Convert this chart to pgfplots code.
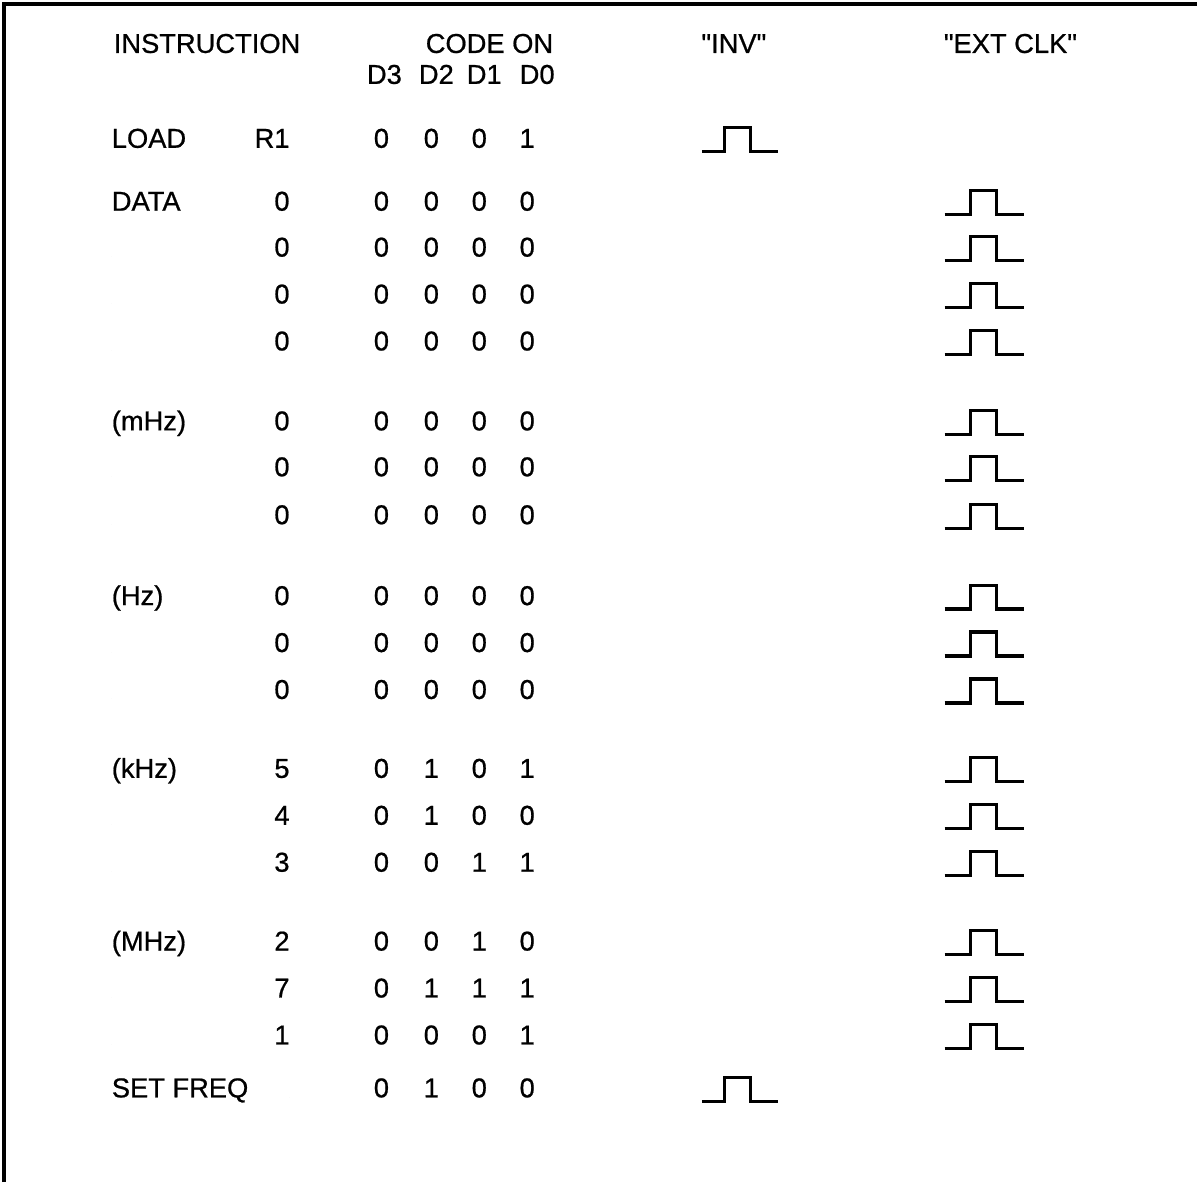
\documentclass[border=0pt]{standalone}
\usepackage{fontspec}
\setmainfont{Liberation Sans}[FakeBold=0.7]
\usepackage{pgfplots}
\usepackage{pgfplotstable}
\pgfplotsset{compat=1.18}

% rows: baseline y, label, digit, bits D3 D2 D1 D0
\pgfplotstableread{
y lab dig bA bB bC bD
148 LOAD R1 0 0 0 1
211 DATA 0 0 0 0 0
257 {} 0 0 0 0 0
304 {} 0 0 0 0 0
351 {} 0 0 0 0 0
431 (mHz) 0 0 0 0 0
477 {} 0 0 0 0 0
525 {} 0 0 0 0 0
606 (Hz) 0 0 0 0 0
653 {} 0 0 0 0 0
700 {} 0 0 0 0 0
779 (kHz) 5 0 1 0 1
826 {} 4 0 1 0 0
873 {} 3 0 0 1 1
952 (MHz) 2 0 0 1 0
999 {} 7 0 1 1 1
1046 {} 1 0 0 0 1
1099 {SET FREQ} {} 0 1 0 0
}\rows

\pgfplotstableread{
x y lab
735 53 {\textquotedbl INV\textquotedbl}
1012 53 {\textquotedbl EXT CLK\textquotedbl}
385 84 D3
437 84 D2
485 84 D1
538 84 D0
}\heads

\pgfplotstableread{
x y
703 152
726 152
726 128
752 128
752 152
779 152
nan nan
703 1103
726 1103
726 1079
752 1079
752 1103
779 1103
nan nan
946 215
972 215
972 191
998 191
998 215
1026 215
nan nan
946 261
972 261
972 237
998 237
998 261
1026 261
nan nan
946 308
972 308
972 284
998 284
998 308
1026 308
nan nan
946 355
972 355
972 331
998 331
998 355
1026 355
nan nan
946 435
972 435
972 411
998 411
998 435
1026 435
nan nan
946 481
972 481
972 457
998 457
998 481
1026 481
nan nan
946 529
972 529
972 505
998 505
998 529
1026 529
nan nan
946 610
972 610
972 586
998 586
998 610
1026 610
nan nan
946 657
972 657
972 633
998 633
998 657
1026 657
nan nan
946 704
972 704
972 680
998 680
998 704
1026 704
nan nan
946 783
972 783
972 759
998 759
998 783
1026 783
nan nan
946 830
972 830
972 806
998 806
998 830
1026 830
nan nan
946 877
972 877
972 853
998 853
998 877
1026 877
nan nan
946 956
972 956
972 932
998 932
998 956
1026 956
nan nan
946 1003
972 1003
972 979
998 979
998 1003
1026 1003
nan nan
946 1050
972 1050
972 1026
998 1026
998 1050
1026 1050
}\pulses

\pgfplotsset{
  txt/.style={only marks, mark=*, mark size=0pt,
    mark options={draw=none,fill=none},
    point meta=explicit symbolic, nodes near coords,
    nodes near coords style={font=\fontsize{8.2}{9.5}\selectfont,
      inner sep=0pt, outer sep=0pt, text=black}},
}

\begin{document}
\begin{tikzpicture}
\begin{axis}[
  scale only axis, width=359.7pt, height=355.2pt,
  xmin=0, xmax=1199, ymin=0, ymax=1184, y dir=reverse,
  hide axis, clip=false,
]
\addplot[draw=none] coordinates {(0,0) (1199,1184)};
% border
\addplot[black, line width=1.1pt, line join=miter] coordinates {(4,1184) (4,4) (1199,4)};
% headers
\addplot[txt, nodes near coords style={anchor=base west}] coordinates {(114,53) [INSTRUCTION]};
\addplot[txt, nodes near coords style={anchor=base east}] coordinates {(554,53) [CODE ON]};
\addplot[txt, nodes near coords style={anchor=base}] table[x=x, y=y, meta=lab] {\heads};
% row labels
\addplot[txt, nodes near coords style={anchor=base west}] table[x expr=112, y=y, meta=lab] {\rows};
\addplot[txt, nodes near coords style={anchor=base east}] table[x expr=290, y=y, meta=dig] {\rows};
\addplot[txt, nodes near coords style={anchor=base}] table[x expr=382, y=y, meta=bA] {\rows};
\addplot[txt, nodes near coords style={anchor=base}] table[x expr=432, y=y, meta=bB] {\rows};
\addplot[txt, nodes near coords style={anchor=base}] table[x expr=480, y=y, meta=bC] {\rows};
\addplot[txt, nodes near coords style={anchor=base}] table[x expr=528, y=y, meta=bD] {\rows};
% pulses
\addplot[black, line width=0.95pt, line join=miter, unbounded coords=jump] table[x=x, y=y] {\pulses};
\end{axis}
\end{tikzpicture}
\end{document}
